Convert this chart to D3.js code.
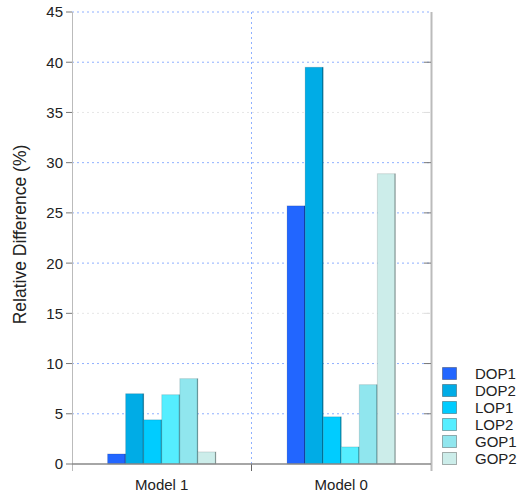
<!DOCTYPE html>
<html><head><meta charset="utf-8">
<script src="https://cdn.jsdelivr.net/npm/d3@7"></script>
<style>body{margin:0;background:#fff}svg{display:block}text{font-family:"Liberation Sans",Arial,sans-serif;fill:#222}</style>
</head><body><svg id="c" width="517" height="495"></svg>
<script>
const categories = ["Model 1", "Model 0"];
const seriesNames = ["DOP1", "DOP2", "LOP1", "LOP2", "GOP1", "GOP2"];
const seriesColors = ["#2266ff", "#00ace6", "#00ccff", "#55eeff", "#90e6ee", "#ccedea"];
const DOP1 = [1.0, 25.7];
const DOP2 = [7.0, 39.5];
const LOP1 = [4.4, 4.7];
const LOP2 = [6.9, 1.7];
const GOP1 = [8.5, 7.9];
const GOP2 = [1.2, 28.9];
const yTicks = [0, 5, 10, 15, 20, 25, 30, 35, 40, 45];
const yTitle = "Relative Difference (%)";

const series = [DOP1, DOP2, LOP1, LOP2, GOP1, GOP2];
const svg = d3.select("#c");
const L = 72, R = 431, T = 12, B = 464;
const x = d3.scaleBand().domain(categories).range([L, R]);
const xi = d3.scaleBand().domain(seriesNames).range([0, x.bandwidth()]).paddingOuter(1.97);
const y = d3.scaleLinear().domain([0, 45]).range([B, T]);

// grid
svg.append("g").selectAll("line").data(yTicks.filter(d => d > 0)).join("line")
  .attr("x1", L).attr("x2", R).attr("y1", d => y(d)).attr("y2", d => y(d))
  .attr("stroke", d => (d === 15 || d === 35) ? "#e6e6e6" : "#8fb0ff")
  .attr("stroke-width", 1).attr("stroke-dasharray", "2,3");
// vertical divider
svg.append("line").attr("x1", x(categories[1])).attr("x2", x(categories[1]))
  .attr("y1", T).attr("y2", B).attr("stroke", "#8fb0ff").attr("stroke-dasharray", "2,3");
svg.append("line").attr("x1", x(categories[1])).attr("x2", x(categories[1]))
  .attr("y1", B).attr("y2", B + 7).attr("stroke", "#666");

// bars
const g = svg.append("g");
categories.forEach((c, ci) => {
  seriesNames.forEach((s, si) => {
    const v = series[si][ci];
    const x0 = x(c) + xi(s), w = xi.bandwidth();
    g.append("rect").attr("x", x0).attr("y", y(v)).attr("width", w).attr("height", y(0) - y(v))
      .attr("fill", seriesColors[si]).attr("stroke", "rgba(0,0,0,0.12)").attr("stroke-width", 1);
    g.append("line").attr("x1", x0 + w - 0.5).attr("x2", x0 + w - 0.5).attr("y1", y(v)).attr("y2", y(0))
      .attr("stroke", "rgba(0,0,0,0.35)").attr("stroke-width", 1);
  });
});

// axes frame
svg.append("line").attr("x1", L + 0.5).attr("x2", L + 0.5).attr("y1", T).attr("y2", B + 7).attr("stroke", "#bbb");
svg.append("line").attr("x1", R + 0.5).attr("x2", R + 0.5).attr("y1", T).attr("y2", B + 7).attr("stroke", "#bbb").attr("stroke-width", 2);
svg.append("line").attr("x1", L).attr("x2", R).attr("y1", B).attr("y2", B).attr("stroke", "#888").attr("stroke-width", 1.5);

// left ticks & labels
const ya = svg.append("g");
yTicks.forEach(t => {
  ya.append("line").attr("x1", L - 6).attr("x2", L).attr("y1", y(t)).attr("y2", y(t)).attr("stroke", "#777");
  ya.append("text").attr("x", 63).attr("y", y(t)).attr("dy", "0.36em").attr("text-anchor", "end")
    .attr("font-size", 15).text(t);
  if (t > 0 && t < 45) ya.append("line").attr("x1", R - 7).attr("x2", R).attr("y1", y(t)).attr("y2", y(t))
    .attr("stroke", (t === 15 || t === 35) ? "#ddd" : "#777");
});

// x labels
categories.forEach(c => {
  svg.append("text").attr("x", x(c) + x.bandwidth() / 2).attr("y", 490).attr("text-anchor", "middle")
    .attr("font-size", 15).text(c);
});

// y title
svg.append("text").attr("transform", `translate(26,${(144 + 325) / 2}) rotate(-90)`).attr("text-anchor", "middle")
  .attr("font-size", 17.5).text(yTitle);

// legend
const lg = svg.append("g");
seriesNames.forEach((s, i) => {
  const yy = 367 + i * 17;
  lg.append("rect").attr("x", 442.5).attr("y", yy + 0.5).attr("width", 14).attr("height", 12)
    .attr("fill", seriesColors[i]).attr("stroke", "rgba(0,0,0,0.3)");
  lg.append("text").attr("x", 475).attr("y", yy + 7).attr("dy", "0.36em").attr("font-size", 15).text(s);
});
</script></body></html>
